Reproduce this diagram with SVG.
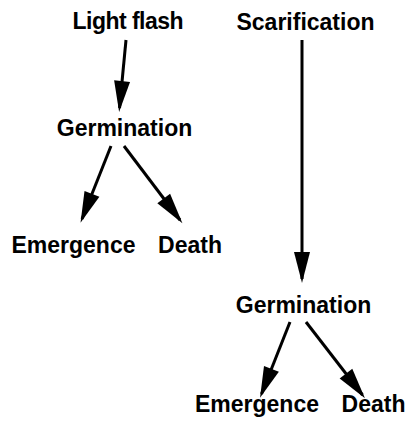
<svg xmlns="http://www.w3.org/2000/svg" width="410" height="438" viewBox="0 0 410 438">
<style>
text{font-family:"Liberation Sans",Arial,sans-serif;font-weight:bold;font-size:23px;fill:#000;text-anchor:middle}
.c line{stroke:#000;stroke-width:3;marker-end:url(#ah)}
</style>
<defs>
<marker id="ah" markerUnits="userSpaceOnUse" markerWidth="32" markerHeight="18" refX="27" refY="8" orient="auto" overflow="visible">
<path d="M0,0 L31,8 L0,16 z" fill="#000"/>
</marker>
</defs>
<rect width="410" height="438" fill="#fff"/>
<g class="c" id="connectors">
<line x1="126" y1="40" x2="119.5" y2="108"/>
<line x1="302" y1="40" x2="302" y2="279"/>
<line x1="111" y1="146" x2="82" y2="219"/>
<line x1="124" y1="146" x2="180" y2="220"/>
<line x1="290" y1="322" x2="261.5" y2="394"/>
<line x1="306" y1="322" x2="362.5" y2="395"/>
</g>
<g id="lightflash"><text x="128" y="29" textLength="111" lengthAdjust="spacing">Light flash</text></g>
<g id="scarification"><text x="305.5" y="30">Scarification</text></g>
<g id="germination1"><text x="124.5" y="136">Germination</text></g>
<g id="emergence1"><text x="73.5" y="253">Emergence</text></g>
<g id="death1"><text x="190" y="253">Death</text></g>
<g id="germination2"><text x="303.5" y="313">Germination</text></g>
<g id="emergence2"><text x="257" y="412">Emergence</text></g>
<g id="death2"><text x="373.5" y="412">Death</text></g>
</svg>
